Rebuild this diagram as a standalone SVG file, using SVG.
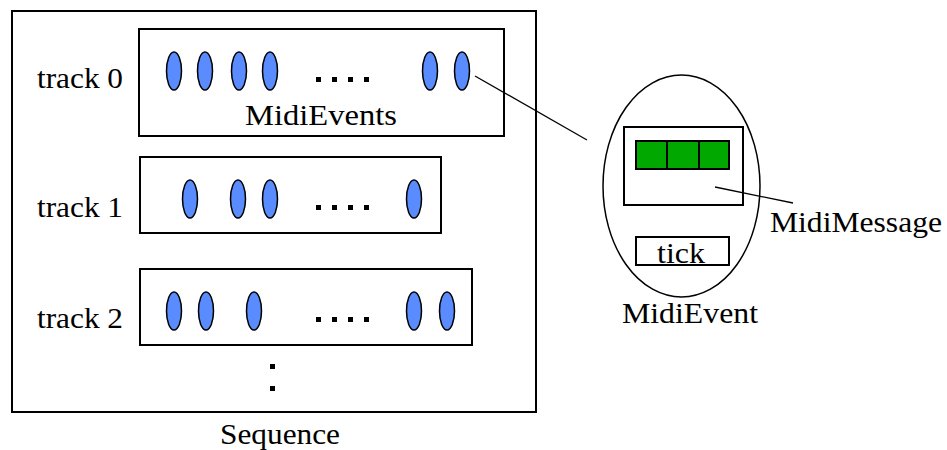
<svg xmlns="http://www.w3.org/2000/svg" width="947" height="450" viewBox="0 0 947 450">
<style>
.box{fill:#fff;stroke:#000;stroke-width:2}
.ev{fill:#5b8cff;stroke:#000;stroke-width:1.5}
.dot{fill:#000}
.t{font-family:'Liberation Serif','DejaVu Serif','Times New Roman',Times,serif;font-size:29px;fill:#000}
.ln{stroke:#000;stroke-width:1.3;fill:none}
.g{fill:#00a800;stroke:#000;stroke-width:2}
</style>
<rect x="0" y="0" width="947" height="450" fill="#fff"/>
<g id="sequence">
<rect class="box" x="12" y="11" width="524" height="401"/>
<text class="t" x="220" y="444" textLength="120" lengthAdjust="spacingAndGlyphs">Sequence</text>
<rect class="dot" x="270" y="364" width="5" height="5"/>
<rect class="dot" x="270" y="386" width="5" height="5"/>
</g>
<g id="track0">
<text class="t" x="37" y="88" textLength="86" lengthAdjust="spacingAndGlyphs">track 0</text>
<rect class="box" x="139" y="29" width="365" height="107"/>
<ellipse class="ev" cx="174" cy="71" rx="7.5" ry="19"/>
<ellipse class="ev" cx="205" cy="71" rx="7.5" ry="19"/>
<ellipse class="ev" cx="239" cy="71" rx="7.5" ry="19"/>
<ellipse class="ev" cx="270" cy="71" rx="7.5" ry="19"/>
<ellipse class="ev" cx="430" cy="71" rx="7.5" ry="19"/>
<ellipse class="ev" cx="462" cy="71" rx="7.5" ry="19"/>
<rect class="dot" x="316" y="77" width="5" height="5"/>
<rect class="dot" x="332" y="77" width="5" height="5"/>
<rect class="dot" x="348" y="77" width="5" height="5"/>
<rect class="dot" x="364" y="77" width="5" height="5"/>
<text class="t" x="245" y="125" textLength="152" lengthAdjust="spacingAndGlyphs">MidiEvents</text>
</g>
<g id="track1">
<text class="t" x="37" y="217" textLength="86" lengthAdjust="spacingAndGlyphs">track 1</text>
<rect class="box" x="140" y="157" width="301" height="76"/>
<ellipse class="ev" cx="190" cy="199" rx="7.5" ry="19"/>
<ellipse class="ev" cx="238" cy="199" rx="7.5" ry="19"/>
<ellipse class="ev" cx="270" cy="199" rx="7.5" ry="19"/>
<ellipse class="ev" cx="414" cy="199" rx="7.5" ry="19"/>
<rect class="dot" x="316" y="205" width="5" height="5"/>
<rect class="dot" x="332" y="205" width="5" height="5"/>
<rect class="dot" x="348" y="205" width="5" height="5"/>
<rect class="dot" x="364" y="205" width="5" height="5"/>
</g>
<g id="track2">
<text class="t" x="37" y="328" textLength="86" lengthAdjust="spacingAndGlyphs">track 2</text>
<rect class="box" x="140" y="269" width="332" height="76"/>
<ellipse class="ev" cx="174" cy="311" rx="7.5" ry="19"/>
<ellipse class="ev" cx="206" cy="311" rx="7.5" ry="19"/>
<ellipse class="ev" cx="254" cy="311" rx="7.5" ry="19"/>
<ellipse class="ev" cx="414" cy="311" rx="7.5" ry="19"/>
<ellipse class="ev" cx="447" cy="311" rx="7.5" ry="19"/>
<rect class="dot" x="316" y="317" width="5" height="5"/>
<rect class="dot" x="332" y="317" width="5" height="5"/>
<rect class="dot" x="348" y="317" width="5" height="5"/>
<rect class="dot" x="364" y="317" width="5" height="5"/>
</g>
<g id="midievent">
<ellipse cx="681.5" cy="186" rx="78.5" ry="111" fill="none" stroke="#000" stroke-width="1.5"/>
<rect class="box" x="624" y="127" width="119" height="78"/>
<rect class="g" x="636" y="141" width="31" height="28"/>
<rect class="g" x="667" y="141" width="32" height="28"/>
<rect class="g" x="699" y="141" width="30" height="28"/>
<rect class="box" x="636" y="237" width="93" height="28"/>
<text class="t" x="657" y="263" textLength="48" lengthAdjust="spacingAndGlyphs">tick</text>
<text class="t" x="622" y="323" textLength="136" lengthAdjust="spacingAndGlyphs">MidiEvent</text>
</g>
<g id="midimessage">
<text class="t" x="770" y="232" textLength="172" lengthAdjust="spacingAndGlyphs">MidiMessage</text>
</g>
<g id="connectors">
<line class="ln" x1="475" y1="76" x2="587" y2="140"/>
<line class="ln" x1="715" y1="187" x2="793" y2="203"/>
</g>
</svg>
